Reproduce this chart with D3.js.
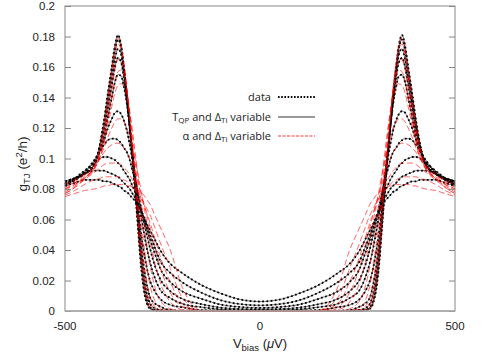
<!DOCTYPE html>
<html>
<head>
<meta charset="utf-8" />
<script src="https://cdn.jsdelivr.net/npm/d3@7"></script>
<style>
  html, body { margin: 0; padding: 0; background: #fff; }
  svg { display: block; }
  .tick text { font-family: "Liberation Sans", Arial, sans-serif; font-size: 11.5px; fill: #222; }
</style>
</head>
<body>
<svg id="mainsvg" width="485" height="355"></svg>
<script>
// |V_bias| grid in uV (curves are symmetric in V)
const vAbs = [0, 50, 100, 150, 200, 230, 256, 270, 282, 290, 298, 306, 313, 320, 327, 334, 341, 349, 356, 364, 372, 380, 390, 400, 410, 425, 450, 475, 500];

// measured conductance (e^2/h), one array per temperature, low T first
const data1  = [0, 0, 0, 0, 0, 0, 0, 0.0003, 0.0015, 0.005, 0.014, 0.032, 0.055, 0.078, 0.100, 0.120, 0.140, 0.160, 0.174, 0.181, 0.174, 0.160, 0.143, 0.125, 0.110, 0.096, 0.090, 0.087, 0.085];
const data2  = [0, 0, 0, 0, 0, 0.0001, 0.0002, 0.0007, 0.0025, 0.007, 0.018, 0.036, 0.058, 0.080, 0.101, 0.121, 0.140, 0.159, 0.172, 0.178, 0.171, 0.158, 0.141, 0.123, 0.109, 0.096, 0.090, 0.087, 0.085];
const data3  = [0, 0, 0, 0, 0.0001, 0.0002, 0.0007, 0.0018, 0.005, 0.011, 0.023, 0.041, 0.061, 0.082, 0.102, 0.121, 0.139, 0.156, 0.168, 0.172, 0.165, 0.153, 0.137, 0.121, 0.108, 0.096, 0.090, 0.087, 0.085];
const data4  = [0, 0, 0, 0.0001, 0.0002, 0.0006, 0.003, 0.005, 0.009, 0.017, 0.029, 0.046, 0.065, 0.084, 0.103, 0.121, 0.138, 0.153, 0.163, 0.166, 0.160, 0.148, 0.133, 0.118, 0.107, 0.096, 0.090, 0.087, 0.085];
const data5  = [0.0002, 0.0002, 0.0003, 0.0006, 0.0025, 0.004, 0.008, 0.013, 0.020, 0.028, 0.039, 0.053, 0.070, 0.087, 0.104, 0.120, 0.135, 0.147, 0.154, 0.155, 0.150, 0.140, 0.127, 0.114, 0.105, 0.096, 0.090, 0.086, 0.084];
const data6  = [0.0005, 0.0006, 0.0011, 0.0025, 0.0048, 0.0085, 0.014, 0.022, 0.032, 0.041, 0.052, 0.064, 0.076, 0.088, 0.099, 0.109, 0.118, 0.125, 0.129, 0.131, 0.130, 0.126, 0.120, 0.112, 0.106, 0.098, 0.091, 0.086, 0.083];
const data7  = [0.001, 0.0013, 0.0022, 0.0045, 0.008, 0.013, 0.021, 0.030, 0.041, 0.050, 0.059, 0.069, 0.077, 0.086, 0.092, 0.099, 0.104, 0.107, 0.110, 0.112, 0.113, 0.113, 0.112, 0.109, 0.105, 0.099, 0.091, 0.086, 0.083];
const data8  = [0.002, 0.0026, 0.0042, 0.008, 0.013, 0.019, 0.028, 0.038, 0.047, 0.054, 0.060, 0.067, 0.072, 0.078, 0.082, 0.086, 0.089, 0.092, 0.095, 0.097, 0.099, 0.100, 0.101, 0.101, 0.100, 0.097, 0.092, 0.087, 0.083];
const data9  = [0.0037, 0.0045, 0.007, 0.012, 0.019, 0.025, 0.033, 0.042, 0.050, 0.056, 0.061, 0.066, 0.070, 0.074, 0.077, 0.080, 0.082, 0.084, 0.086, 0.088, 0.089, 0.090, 0.091, 0.092, 0.092, 0.092, 0.090, 0.086, 0.082];
const data10 = [0.0062, 0.0075, 0.0115, 0.017, 0.025, 0.031, 0.040, 0.047, 0.053, 0.057, 0.062, 0.066, 0.069, 0.072, 0.074, 0.076, 0.078, 0.079, 0.081, 0.082, 0.083, 0.084, 0.085, 0.085, 0.086, 0.086, 0.086, 0.084, 0.082];

// alpha and Delta_Ti variable fits
const alpha1  = [0, 0, 0, 0, 0, 0, 0, 0.0003, 0.002, 0.007, 0.018, 0.037, 0.059, 0.082, 0.104, 0.125, 0.145, 0.163, 0.175, 0.179, 0.172, 0.158, 0.140, 0.122, 0.108, 0.096, 0.090, 0.086, 0.083];
const alpha2  = [0, 0, 0, 0, 0, 0, 0.0002, 0.001, 0.004, 0.011, 0.024, 0.043, 0.064, 0.086, 0.107, 0.127, 0.146, 0.162, 0.172, 0.175, 0.168, 0.154, 0.136, 0.119, 0.106, 0.095, 0.089, 0.085, 0.081];
const alpha3  = [0, 0, 0, 0, 0, 0.0001, 0.0008, 0.003, 0.009, 0.019, 0.033, 0.051, 0.071, 0.091, 0.110, 0.128, 0.144, 0.157, 0.164, 0.165, 0.158, 0.146, 0.130, 0.115, 0.104, 0.094, 0.088, 0.084, 0.080];
const alpha4  = [0, 0, 0, 0, 0, 0.0003, 0.002, 0.007, 0.017, 0.029, 0.044, 0.062, 0.080, 0.098, 0.115, 0.131, 0.144, 0.154, 0.158, 0.157, 0.151, 0.140, 0.126, 0.112, 0.102, 0.093, 0.087, 0.083, 0.080];
const alpha5  = [0, 0, 0, 0, 0.0002, 0.0015, 0.007, 0.016, 0.030, 0.043, 0.058, 0.074, 0.089, 0.104, 0.118, 0.130, 0.140, 0.147, 0.149, 0.148, 0.143, 0.134, 0.122, 0.110, 0.101, 0.093, 0.087, 0.083, 0.079];
const alpha6  = [0, 0, 0, 0, 0.001, 0.006, 0.019, 0.032, 0.047, 0.058, 0.069, 0.080, 0.090, 0.099, 0.107, 0.114, 0.120, 0.124, 0.126, 0.126, 0.124, 0.120, 0.114, 0.107, 0.101, 0.094, 0.087, 0.082, 0.078];
const alpha7  = [0, 0, 0, 0.0002, 0.003, 0.012, 0.029, 0.043, 0.055, 0.063, 0.071, 0.078, 0.085, 0.091, 0.096, 0.100, 0.104, 0.107, 0.109, 0.110, 0.110, 0.109, 0.107, 0.104, 0.100, 0.094, 0.087, 0.081, 0.077];
const alpha8  = [0, 0, 0, 0.0001, 0.005, 0.019, 0.036, 0.048, 0.058, 0.064, 0.070, 0.075, 0.079, 0.083, 0.086, 0.089, 0.092, 0.094, 0.096, 0.097, 0.097, 0.097, 0.097, 0.096, 0.094, 0.091, 0.086, 0.081, 0.077];
const alpha9  = [0, 0, 0, 0.0002, 0.009, 0.028, 0.045, 0.055, 0.063, 0.067, 0.071, 0.074, 0.077, 0.079, 0.081, 0.083, 0.085, 0.086, 0.087, 0.088, 0.088, 0.088, 0.088, 0.088, 0.087, 0.086, 0.083, 0.079, 0.076];
const alpha10 = [0, 0, 0, 0.0003, 0.016, 0.040, 0.055, 0.063, 0.070, 0.073, 0.076, 0.078, 0.079, 0.080, 0.081, 0.082, 0.082, 0.083, 0.083, 0.083, 0.083, 0.083, 0.082, 0.082, 0.081, 0.080, 0.079, 0.077, 0.075];

const dataSeries = [data1, data2, data3, data4, data5, data6, data7, data8, data9, data10];
const alphaSeries = [alpha1, alpha2, alpha3, alpha4, alpha5, alpha6, alpha7, alpha8, alpha9, alpha10];

const yTicks = [0, 0.02, 0.04, 0.06, 0.08, 0.1, 0.12, 0.14, 0.16, 0.18, 0.2];
const yTickLabels = ["0", "0.02", "0.04", "0.06", "0.08", "0.1", "0.12", "0.14", "0.16", "0.18", "0.2"];
const xTicks = [-500, 0, 500];

const svg = d3.select("svg");
const margin = { top: 6, right: 30, bottom: 44, left: 65 };
const width = +svg.attr("width");
const height = +svg.attr("height");
const innerWidth = width - margin.left - margin.right;
const innerHeight = height - margin.top - margin.bottom;

const xScale = d3.scaleLinear().domain([-500, 500]).range([0, innerWidth]);
const yScale = d3.scaleLinear().domain([0, 0.2]).range([innerHeight, 0]);

const g = svg.append("g").attr("transform", `translate(${margin.left}, ${margin.top})`);

// both branches of a symmetric curve, from -500 to +500
const toPoints = (vals) => {
  const pts = [];
  for (let i = vAbs.length - 1; i > 0; i--) pts.push([-vAbs[i], vals[i]]);
  for (let i = 0; i < vAbs.length; i++) pts.push([vAbs[i], vals[i]]);
  return pts;
};

const line = d3.line()
  .x((d) => xScale(d[0]))
  .y((d) => yScale(d[1]))
  .curve(d3.curveMonotoneX);

const plot = g.append("g");

// T_QP and Delta_Ti variable fits (solid)
plot.selectAll(".fit")
  .data(dataSeries)
  .join("path")
  .attr("class", "fit")
  .attr("d", (d) => line(toPoints(d)))
  .attr("fill", "none")
  .attr("stroke", "#666")
  .attr("stroke-width", 0.9);

// data (dotted)
plot.selectAll(".data")
  .data(dataSeries)
  .join("path")
  .attr("class", "data")
  .attr("d", (d) => line(toPoints(d)))
  .attr("fill", "none")
  .attr("stroke", "#000")
  .attr("stroke-width", 1.8)
  .attr("stroke-dasharray", "1.8,2.4");

// alpha fits (red dashed)
plot.selectAll(".alpha")
  .data(alphaSeries)
  .join("path")
  .attr("class", "alpha")
  .attr("d", (d) => line(toPoints(d)))
  .attr("fill", "none")
  .attr("stroke", "#ff0000")
  .attr("stroke-opacity", 0.85)
  .attr("stroke-width", 0.7)
  .attr("stroke-dasharray", "6,3");

// axes: inward ticks on both sides, labels drawn separately
const yAxis = g.append("g").call(d3.axisLeft(yScale).tickValues(yTicks).tickSizeInner(-6).tickSizeOuter(0));
const yAxisR = g.append("g").attr("transform", `translate(${innerWidth},0)`)
  .call(d3.axisRight(yScale).tickValues(yTicks).tickSizeInner(-6).tickSizeOuter(0));
[yAxis, yAxisR].forEach((a) => {
  a.select(".domain").remove();
  a.selectAll(".tick text").remove();
  a.selectAll(".tick line").attr("stroke", "#888");
});

const labelFont = "Liberation Sans, Arial, sans-serif";
g.selectAll(".ylab")
  .data(yTicks)
  .join("text")
  .attr("class", "ylab")
  .attr("x", -10)
  .attr("y", (d) => yScale(d) + 4)
  .attr("text-anchor", "end")
  .attr("font-family", labelFont)
  .attr("font-size", 11.5)
  .attr("fill", "#222")
  .text((d, i) => yTickLabels[i]);

g.selectAll(".xlab")
  .data(xTicks)
  .join("text")
  .attr("class", "xlab")
  .attr("x", (d) => xScale(d))
  .attr("y", innerHeight + 19)
  .attr("text-anchor", "middle")
  .attr("font-family", labelFont)
  .attr("font-size", 11.5)
  .attr("fill", "#222")
  .text((d) => d);

g.append("rect")
  .attr("width", innerWidth)
  .attr("height", innerHeight)
  .attr("fill", "none")
  .attr("stroke", "#888")
  .attr("stroke-width", 1);
g.append("line")
  .attr("x1", 0).attr("x2", innerWidth)
  .attr("y1", innerHeight).attr("y2", innerHeight)
  .attr("stroke", "#aaa").attr("stroke-width", 1.5);

// axis titles
const xt = svg.append("text")
  .attr("x", margin.left + innerWidth / 2)
  .attr("y", 348)
  .attr("text-anchor", "middle")
  .attr("font-family", labelFont)
  .attr("font-size", 13)
  .attr("fill", "#222");
xt.append("tspan").text("V");
xt.append("tspan").attr("font-size", 9.5).attr("dy", 3).text("bias");
xt.append("tspan").attr("dy", -3).text(" (");
xt.append("tspan").attr("font-style", "italic").text("\u03bc");
xt.append("tspan").text("V)");

const yt = svg.append("text")
  .attr("transform", `translate(27, 164) rotate(-90)`)
  .attr("text-anchor", "middle")
  .attr("font-family", labelFont)
  .attr("font-size", 13.5)
  .attr("fill", "#222");
yt.append("tspan").text("g");
yt.append("tspan").attr("font-size", 9.5).attr("dy", 3).text("TJ");
yt.append("tspan").attr("dy", -3).text(" (e");
yt.append("tspan").attr("font-size", 9.5).attr("dy", -5).text("2");
yt.append("tspan").attr("dy", 5).text("/h)");

// legend: each entry is a row of text pieces, right-aligned at x = 271
const legend = svg.append("g")
  .attr("font-family", "Open Sans, Lato, sans-serif")
  .attr("fill", "#222");
const legY = [97, 117, 136];
const legRows = [
  [["data", 0]],
  [["T", 0], ["QP", 1], [" and \u0394", 0], ["Ti", 1], [" variable", 0]],
  [["\u03b1 and \u0394", 0], ["Ti", 1], [" variable", 0]],
];
legRows.forEach((row, r) => {
  const pieces = row.map(([txt, sub]) => legend.append("text")
    .attr("y", legY[r] + 3.5 + (sub ? 2.5 : 0))
    .attr("font-size", sub ? 8 : 11)
    .attr("xml:space", "preserve")
    .text(txt));
  const widths = pieces.map((p) => p.node().getComputedTextLength());
  let x = 271 - d3.sum(widths);
  pieces.forEach((p, i) => { p.attr("x", x); x += widths[i]; });
});

legend.append("line").attr("x1", 278).attr("x2", 315).attr("y1", legY[0]).attr("y2", legY[0])
  .attr("stroke", "#000").attr("stroke-width", 1.8).attr("stroke-dasharray", "1.6,1.6");
legend.append("line").attr("x1", 278).attr("x2", 315).attr("y1", legY[1]).attr("y2", legY[1])
  .attr("stroke", "#333").attr("stroke-width", 1);
legend.append("line").attr("x1", 278).attr("x2", 315).attr("y1", legY[2]).attr("y2", legY[2])
  .attr("stroke", "#ff0000").attr("stroke-width", 0.8).attr("stroke-dasharray", "3,1.5");
</script>
</body>
</html>
